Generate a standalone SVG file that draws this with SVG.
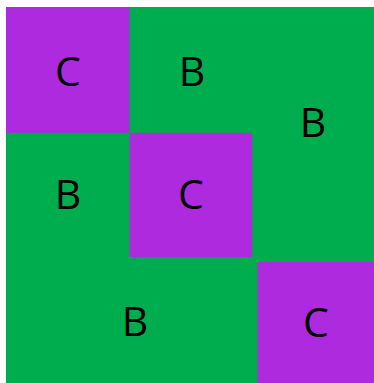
<svg xmlns="http://www.w3.org/2000/svg" width="374" height="383" viewBox="0 0 374 383">
<style>
.g{fill:#00AD4E}
.p{fill:#AD2ADF}
.t{font-family:"Open Sans","Liberation Sans",sans-serif;font-size:41px;fill:#000;text-anchor:middle}
</style>
<rect x="0" y="0" width="374" height="383" fill="#fff"/>
<g id="background"><rect class="g" x="6" y="7" width="368" height="376"/></g>
<g id="c1"><rect class="p" x="6" y="7" width="123.5" height="125.8"/><text class="t" x="68" y="86">C</text></g>
<g id="b1"><text class="t" x="192" y="86">B</text></g>
<g id="b2"><text class="t" x="313" y="137">B</text></g>
<g id="b3"><text class="t" x="68" y="209">B</text></g>
<g id="c2"><rect class="p" x="129.5" y="132.8" width="122.7" height="124.2"/><text class="t" x="191" y="209">C</text></g>
<g id="b4"><text class="t" x="135" y="336">B</text></g>
<g id="c3"><rect class="p" x="257.5" y="262" width="116.5" height="121"/><text class="t" x="316" y="337">C</text></g>
</svg>
